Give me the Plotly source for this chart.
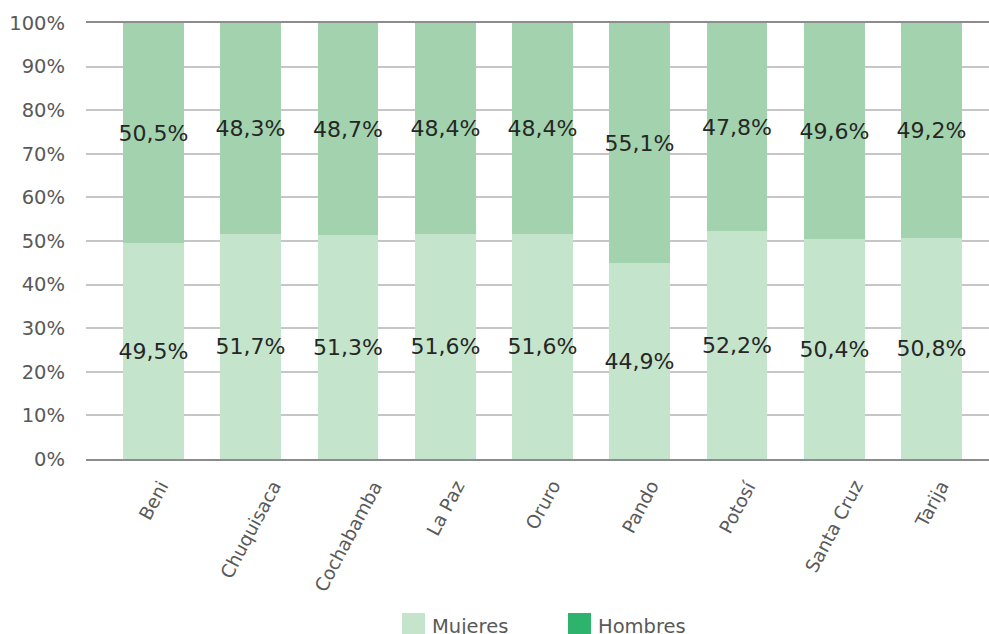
import plotly.graph_objects as go

departamentos = ["Beni", "Chuquisaca", "Cochabamba", "La Paz", "Oruro", "Pando", "Potosí", "Santa Cruz", "Tarija"]
mujeres = [49.5, 51.7, 51.3, 51.6, 51.6, 44.9, 52.2, 50.4, 50.8]
hombres = [50.5, 48.3, 48.7, 48.4, 48.4, 55.1, 47.8, 49.6, 49.2]
y_ticks = [0, 10, 20, 30, 40, 50, 60, 70, 80, 90, 100]

def fmt(v):
    return f"{v:.1f}".replace(".", ",") + "%"

FONT = "DejaVu Sans"
W, H = 989, 634
L, R, T, B = 86, 0, 23, 175

fig = go.Figure()
fig.add_trace(go.Bar(
    x=list(range(len(departamentos))), y=mujeres, name="Mujeres",
    marker=dict(color="#c5e4cc", line=dict(width=0)),
    text=[fmt(v) for v in mujeres], textposition="inside", insidetextanchor="middle",
    textangle=0, constraintext="none",
    textfont=dict(family=FONT, size=22, color="#262626"),
    width=0.627, showlegend=False, hoverinfo="skip",
))
fig.add_trace(go.Bar(
    x=list(range(len(departamentos))), y=hombres, name="Hombres",
    marker=dict(color="#a2d3ae", line=dict(width=0)),
    text=[fmt(v) for v in hombres], textposition="inside", insidetextanchor="middle",
    textangle=0, constraintext="none",
    textfont=dict(family=FONT, size=22, color="#262626"),
    width=0.627, showlegend=False, hoverinfo="skip",
))

# x mapping: category 0 at px 153.5, category 8 at 931.5
ppu = (931.5 - 153.5) / 8
xmin = (L - 153.5) / ppu
xmax = (W - R - 153.5) / ppu

fig.update_layout(
    width=W, height=H,
    margin=dict(l=L, r=R, t=T, b=B, pad=0),
    paper_bgcolor="white", plot_bgcolor="white",
    barmode="stack", bargap=0,
    showlegend=False,
    font=dict(family=FONT, color="#595959"),
    xaxis=dict(
        range=[xmin, xmax], tickmode="array",
        tickvals=list(range(len(departamentos))), ticktext=departamentos,
        showticklabels=False,
        showgrid=False, zeroline=False,
        showline=True, mirror=True, linecolor="#8c8c8c", linewidth=2,
        ticks="", fixedrange=True,
    ),
    yaxis=dict(
        range=[0, 100], tickmode="array", tickvals=y_ticks,
        ticktext=[f"{v}%" for v in y_ticks],
        tickfont=dict(family=FONT, size=19.5, color="#595959"),
        showgrid=True, gridcolor="#c6c6c6", gridwidth=1.5,
        zeroline=False, showline=False, ticks="",
        ticklabelstandoff=20, fixedrange=True,
    ),
)

def px2paper_x(px):
    return (px - L) / (W - L - R)

def py2paper_y(py):
    return (H - B - py) / (H - T - B)

# Category labels: rotated, centred under each bar (as in the reference)
for i, name in enumerate(departamentos):
    fig.add_annotation(xref="x", yref="paper", x=i, y=py2paper_y(476),
                       text=name, showarrow=False, textangle=-62,
                       xanchor="center", yanchor="top", borderpad=0,
                       font=dict(family=FONT, size=18.5, color="#595959"))

# Legend (drawn to match the reference's large square keys)
legend_items = [("Mujeres", "#c5e4cc", 402), ("Hombres", "#2db36b", 568)]
for name, color, x0 in legend_items:
    fig.add_shape(type="rect", xref="paper", yref="paper",
                  x0=px2paper_x(x0), x1=px2paper_x(x0 + 23),
                  y0=py2paper_y(613), y1=py2paper_y(636),
                  fillcolor=color, line=dict(width=0))
    fig.add_annotation(xref="paper", yref="paper",
                       x=px2paper_x(x0 + 28), y=py2paper_y(626),
                       text=name, showarrow=False, xanchor="left", yanchor="middle",
                       font=dict(family=FONT, size=19.5, color="#595959"))

fig.write_html("out.html", config={"displayModeBar": False},
               post_script="document.body.style.margin='0';document.body.style.overflow='hidden';")
